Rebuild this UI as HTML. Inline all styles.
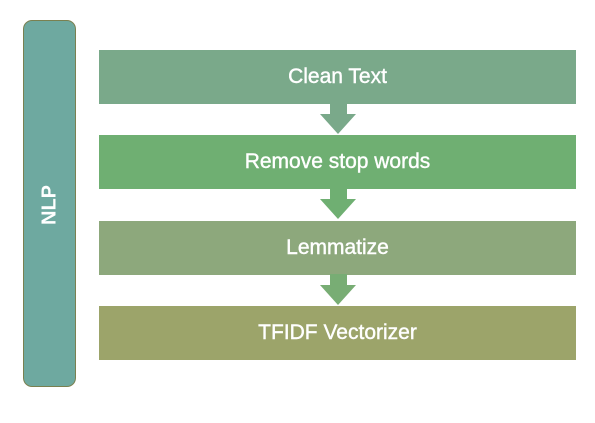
<!DOCTYPE html>
<html><head><style>
body{margin:0;width:595px;height:423px;background:#fff;position:relative;overflow:hidden;font-family:"Liberation Sans",sans-serif}
.side{position:absolute;left:23px;top:20px;width:51px;height:365px;background:#6ea9a0;border:1.5px solid #7a8050;border-radius:9px}
.nlp{position:absolute;left:50px;top:205px;transform:translate(-50%,-50%) rotate(-90deg);color:#fff;font-weight:bold;font-size:20px}
.box{position:absolute;left:99px;width:477px;height:54px;color:#fff;font-size:21px;display:flex;align-items:center;justify-content:center;-webkit-text-stroke:0.4px #fff}
</style></head><body>
<div class="side"></div><div class="nlp">NLP</div>
<div class="box" style="top:50px;background:#7aa98a">Clean Text</div>
<div class="box" style="top:135px;background:#6faf72">Remove stop words</div>
<div class="box" style="top:221px;background:#8da87c">Lemmatize</div>
<div class="box" style="top:306px;background:#9ca46a">TFIDF Vectorizer</div>
<svg width="595" height="423" style="position:absolute;left:0;top:0">
<polygon points="330,104 347,104 347,114 356,114 338,134 320,114 330,114" fill="#7aa98a"/>
<polygon points="330,188 347,188 347,199 356,199 338,219 320,199 330,199" fill="#6faf72"/>
<polygon points="330,274 347,274 347,285 356,285 338,305 320,285 330,285" fill="#78ad74"/>
</svg>
</body></html>
